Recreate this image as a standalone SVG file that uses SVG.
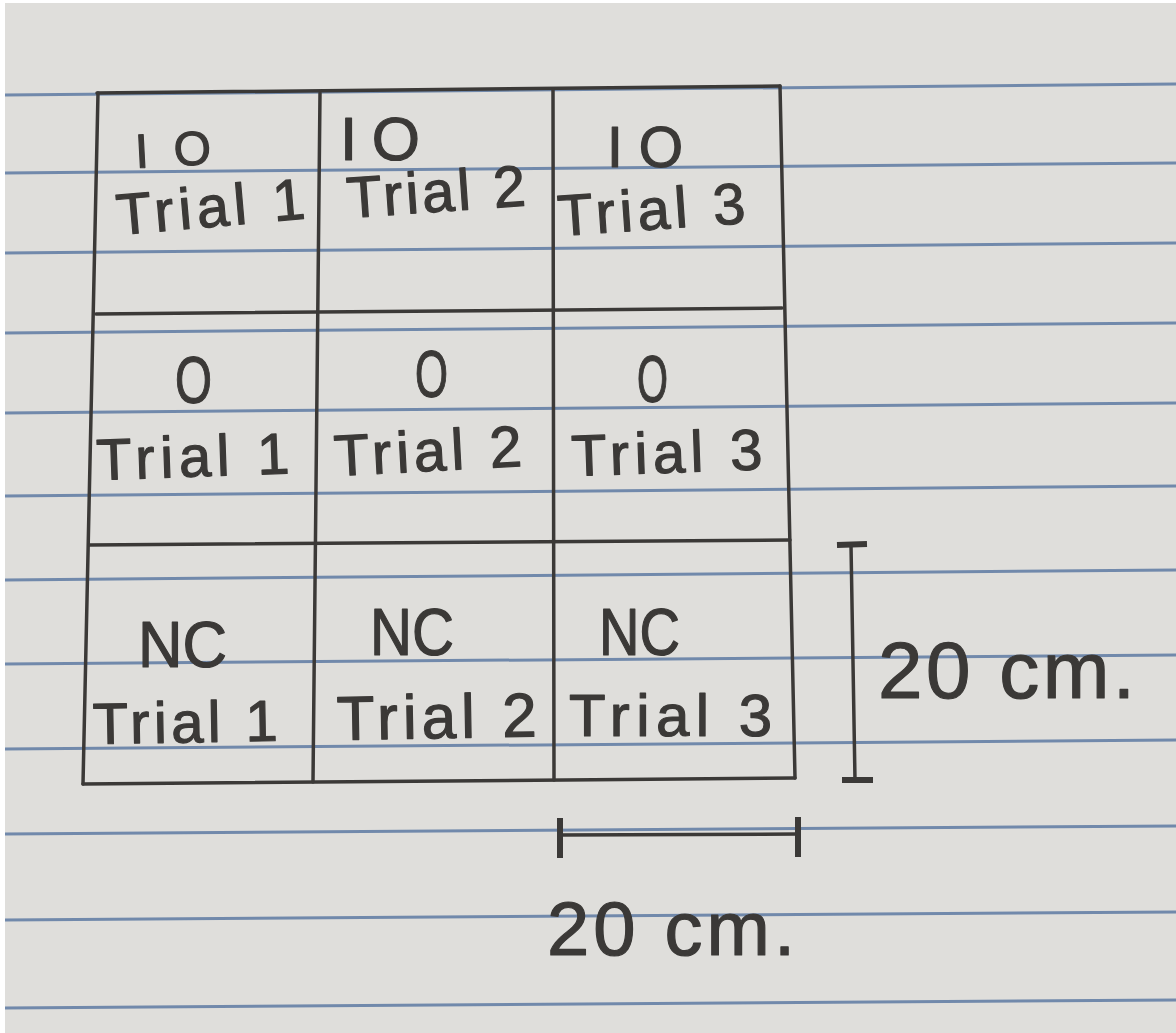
<svg xmlns="http://www.w3.org/2000/svg" width="1176" height="1033" viewBox="0 0 1176 1033">
  <defs>
    <style>
      .paper-line { stroke: #7189ab; stroke-width: 3; fill: none; }
      .pen { stroke: #3b3937; stroke-width: 3.5; fill: none; stroke-linecap: round; }
      .cap { stroke: #3b3937; stroke-width: 6; fill: none; stroke-linecap: butt; }
      .hw { font-family: "Liberation Sans", "DejaVu Sans", sans-serif; fill: #3b3937; stroke: #3b3937; stroke-width: 1.2; stroke-linejoin: round; }
    </style>
  </defs>
  <rect x="0" y="0" width="1176" height="1033" fill="#ffffff"/>
  <rect x="5" y="3" width="1171" height="1030" fill="#dfdedb"/>

  <g id="paper-lines">
    <line class="paper-line" x1="5" y1="95" x2="1176" y2="84"/>
    <line class="paper-line" x1="5" y1="173" x2="1176" y2="163"/>
    <line class="paper-line" x1="5" y1="253" x2="1176" y2="243"/>
    <line class="paper-line" x1="5" y1="333" x2="1176" y2="323"/>
    <line class="paper-line" x1="5" y1="413" x2="1176" y2="403"/>
    <line class="paper-line" x1="5" y1="496" x2="1176" y2="486"/>
    <line class="paper-line" x1="5" y1="580" x2="1176" y2="570"/>
    <line class="paper-line" x1="5" y1="664" x2="1176" y2="655"/>
    <line class="paper-line" x1="5" y1="749" x2="1176" y2="740"/>
    <line class="paper-line" x1="5" y1="834" x2="1176" y2="826"/>
    <line class="paper-line" x1="5" y1="920" x2="1176" y2="912"/>
    <line class="paper-line" x1="5" y1="1008" x2="1176" y2="1000"/>
  </g>

  <g id="grid">
    <line class="pen" x1="97" y1="93" x2="780" y2="86"/>
    <line class="pen" x1="98" y1="93" x2="83" y2="784"/>
    <line class="pen" x1="780" y1="86" x2="795" y2="778"/>
    <line class="pen" x1="83" y1="784" x2="795" y2="778"/>
    <line class="pen" x1="96" y1="314" x2="782" y2="308"/>
    <line class="pen" x1="89" y1="545" x2="790" y2="540"/>
    <line class="pen" x1="320" y1="93" x2="313" y2="782"/>
    <line class="pen" x1="553" y1="90" x2="554" y2="780"/>
  </g>

  <g id="cell-io-1">
    <text class="hw" x="136" y="168" font-size="48" textLength="76" lengthAdjust="spacing" transform="rotate(-3 136 168)">IO</text>
    <text class="hw" x="118" y="235" font-size="58" textLength="189" lengthAdjust="spacing" transform="rotate(-5 118 235)">Trial 1</text>
  </g>
  <g id="cell-io-2">
    <text class="hw" x="340" y="160" font-size="62" textLength="80" lengthAdjust="spacing">IO</text>
    <text class="hw" x="348" y="218" font-size="58" textLength="179" lengthAdjust="spacing" transform="rotate(-4 348 218)">Trial 2</text>
  </g>
  <g id="cell-io-3">
    <text class="hw" x="607" y="167" font-size="57" textLength="76" lengthAdjust="spacing">IO</text>
    <text class="hw" x="559" y="236" font-size="58" textLength="188" lengthAdjust="spacing" transform="rotate(-4 559 236)">Trial 3</text>
  </g>

  <g id="cell-o-1">
    <text class="hw" x="175" y="403" font-size="66" textLength="37" lengthAdjust="spacingAndGlyphs">O</text>
    <text class="hw" x="97" y="480" font-size="58" textLength="193" lengthAdjust="spacing" transform="rotate(-2 97 480)">Trial 1</text>
  </g>
  <g id="cell-o-2">
    <text class="hw" x="415" y="397" font-size="66" textLength="33" lengthAdjust="spacingAndGlyphs">O</text>
    <text class="hw" x="335" y="476" font-size="58" textLength="188" lengthAdjust="spacing" transform="rotate(-3 335 476)">Trial 2</text>
  </g>
  <g id="cell-o-3">
    <text class="hw" x="637" y="402" font-size="66" textLength="31" lengthAdjust="spacingAndGlyphs">O</text>
    <text class="hw" x="572" y="476" font-size="58" textLength="191" lengthAdjust="spacing" transform="rotate(-2 572 476)">Trial 3</text>
  </g>

  <g id="cell-nc-1">
    <text class="hw" x="138" y="667" font-size="64" textLength="89" lengthAdjust="spacingAndGlyphs">NC</text>
    <text class="hw" x="93" y="744" font-size="58" textLength="185" lengthAdjust="spacing" transform="rotate(-1 93 744)">Trial 1</text>
  </g>
  <g id="cell-nc-2">
    <text class="hw" x="370" y="655" font-size="66" textLength="84" lengthAdjust="spacingAndGlyphs">NC</text>
    <text class="hw" x="337" y="740" font-size="62" textLength="200" lengthAdjust="spacing" transform="rotate(-1 337 740)">Trial 2</text>
  </g>
  <g id="cell-nc-3">
    <text class="hw" x="599" y="655" font-size="66" textLength="81" lengthAdjust="spacingAndGlyphs">NC</text>
    <text class="hw" x="569" y="736" font-size="60" textLength="203" lengthAdjust="spacing">Trial 3</text>
  </g>

  <g id="connectors">
    <g id="dim-vertical">
      <line class="pen" x1="851" y1="545" x2="855" y2="780"/>
      <line class="cap" x1="837" y1="545" x2="867" y2="544"/>
      <line class="cap" x1="842" y1="780" x2="873" y2="780"/>
    </g>
    <g id="dim-horizontal">
      <line class="pen" x1="559" y1="835" x2="798" y2="834"/>
      <line class="cap" x1="560" y1="818" x2="560" y2="858"/>
      <line class="cap" x1="798" y1="817" x2="798" y2="857"/>
    </g>
  </g>

  <g id="label-height">
    <text class="hw" x="878" y="698" font-size="80" textLength="257" lengthAdjust="spacing">20 cm.</text>
  </g>
  <g id="label-width">
    <text class="hw" x="547" y="955" font-size="76" textLength="248" lengthAdjust="spacing">20 cm.</text>
  </g>
</svg>
